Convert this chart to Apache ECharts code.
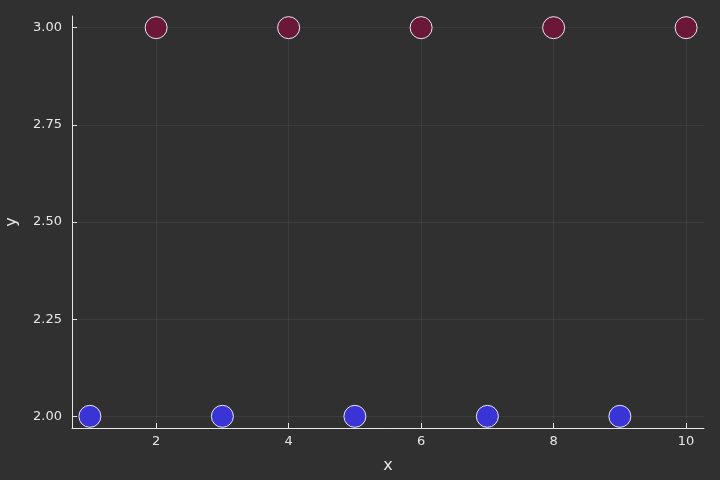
<!DOCTYPE html>
<html><head><meta charset="utf-8">
<script src="https://cdn.jsdelivr.net/npm/echarts@6/dist/echarts.min.js"></script>
<style>html,body{margin:0;padding:0;background:#303030}#c{width:720px;height:480px}</style>
</head><body><div id="c"></div>
<script>
const seriesAX = [1, 3, 5, 7, 9];
const seriesAY = [2, 2, 2, 2, 2];
const seriesBX = [2, 4, 6, 8, 10];
const seriesBY = [3, 3, 3, 3, 3];
const xTicks = [2, 4, 6, 8, 10];
const yTicks = [2.00, 2.25, 2.50, 2.75, 3.00];

const chart = echarts.init(document.getElementById('c'), null, {renderer: 'canvas'});
const txt = '#e6e6e6';
const axisCommon = {
  axisLine: {show: true, onZero: false, lineStyle: {color: '#e6e6e6', width: 1}},
  axisTick: {show: true, inside: true, length: 5, lineStyle: {color: '#e6e6e6'}},
  splitLine: {show: true, lineStyle: {color: 'rgba(255,255,255,0.06)', width: 1}},
  nameTextStyle: {color: txt, fontSize: 16, fontFamily: 'DejaVu Sans'}
};
chart.setOption({
  backgroundColor: '#303030',
  animation: false,
  grid: {left: 72, right: 16, top: 16, bottom: 52, containLabel: false, outerBoundsMode: 'none'},
  xAxis: Object.assign({}, axisCommon, {
    type: 'value', min: 0.73, max: 10.27, name: 'x', nameLocation: 'middle', nameGap: 30,
    axisTick: Object.assign({}, axisCommon.axisTick, {customValues: xTicks}),
    axisLabel: {customValues: xTicks, color: txt, fontSize: 13, fontFamily: 'DejaVu Sans', margin: 7}
  }),
  yAxis: Object.assign({}, axisCommon, {
    type: 'value', min: 1.97, max: 3.03, name: 'y', nameLocation: 'middle', nameGap: 52,
    axisTick: Object.assign({}, axisCommon.axisTick, {customValues: yTicks}),
    axisLabel: {customValues: yTicks, color: txt, fontSize: 13, fontFamily: 'DejaVu Sans', margin: 10,
      formatter: v => v.toFixed(2)}
  }),
  series: [
    {type: 'scatter', data: seriesAX.map((x, i) => [x, seriesAY[i]]), symbolSize: 22,
     itemStyle: {color: '#3a34d6', borderColor: '#e8e8f0', borderWidth: 1, opacity: 1}},
    {type: 'scatter', data: seriesBX.map((x, i) => [x, seriesBY[i]]), symbolSize: 22,
     itemStyle: {color: '#6b1838', borderColor: '#e8e8f0', borderWidth: 1, opacity: 1}}
  ]
});
</script></body></html>
